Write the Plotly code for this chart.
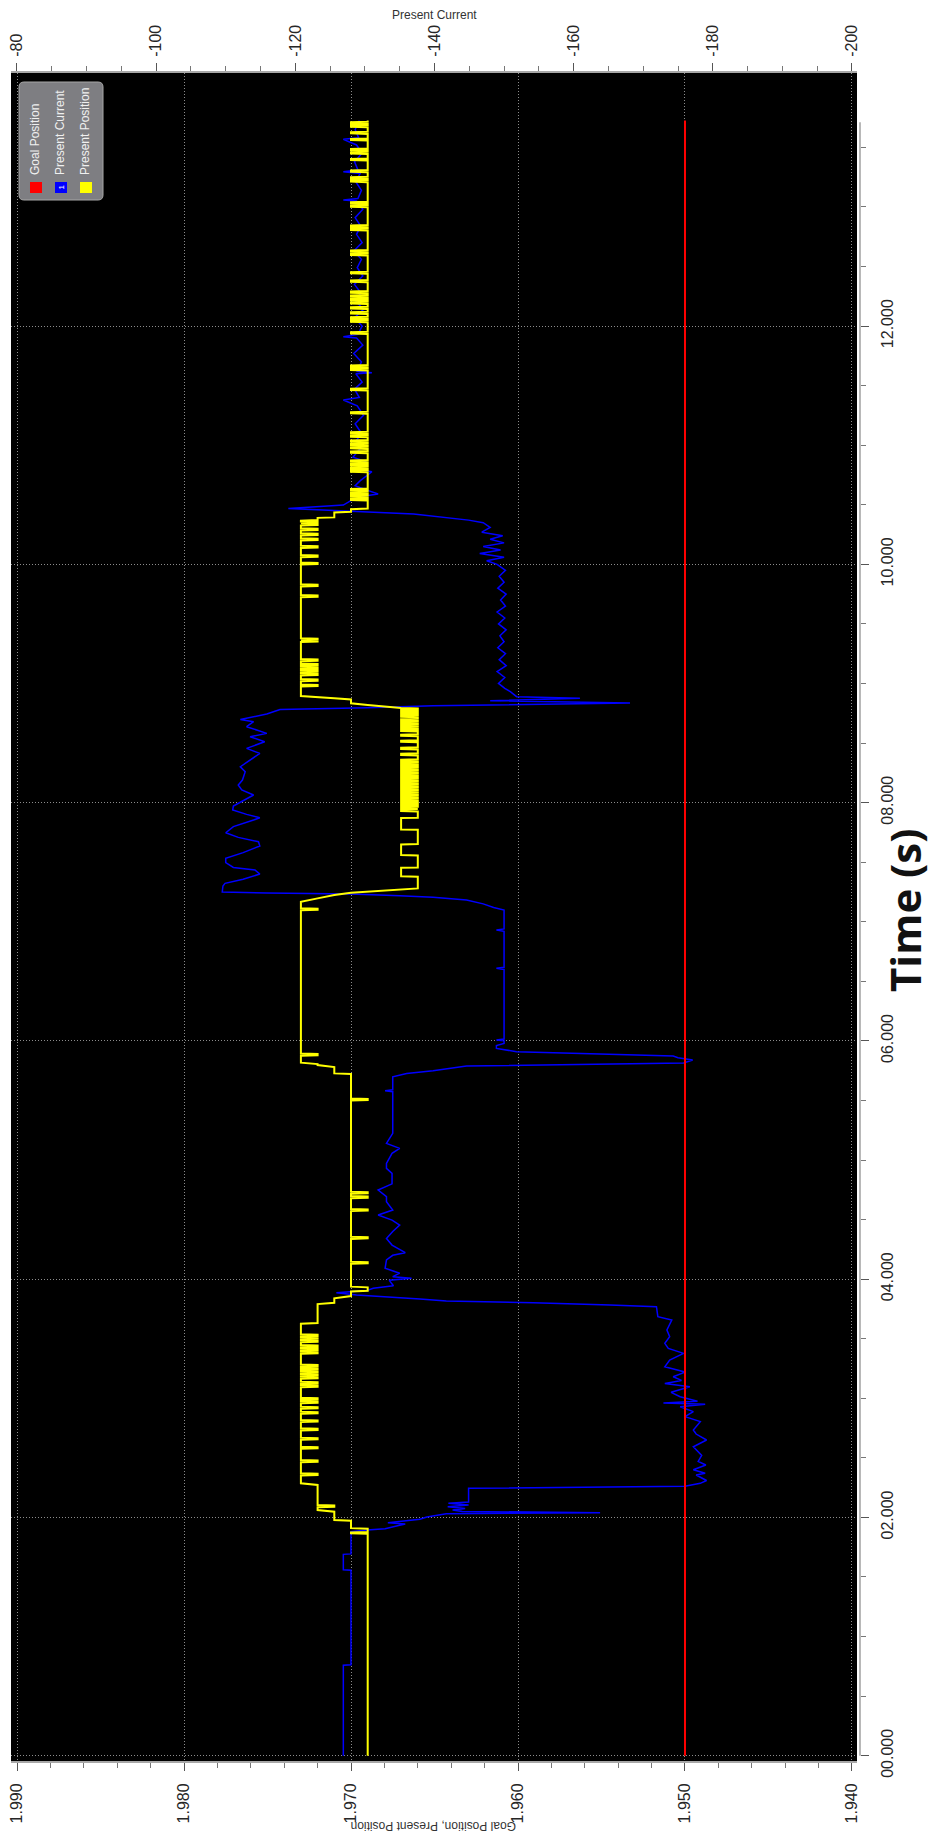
import plotly.graph_objects as go

# ---------------- data ----------------
goal_t = [0.0, 13.725]
goal_v = [1.950, 1.950]

# Present Position: baseline steps (time s, value)
pos_step_t = [0.000, 1.862, 1.866, 1.874, 1.878, 1.905, 1.910, 1.973, 1.978, 2.048,
              2.062, 2.272, 2.286, 3.625, 3.632, 3.791, 3.802, 3.839, 3.858, 3.897,
              3.903, 3.931, 3.937, 5.722, 5.727, 5.780, 5.797, 5.805, 5.817, 7.168,
              7.196, 7.224, 7.244, 7.280, 7.378, 7.381, 7.453, 7.456, 7.557, 7.560,
              7.649, 7.652, 7.772, 7.775, 7.870, 7.873, 8.790, 8.795, 8.805, 8.819,
              8.833, 8.865, 8.875, 8.883, 8.894, 10.366, 10.371, 10.390, 10.394, 10.436,
              10.441, 10.462, 10.469, 13.725]
pos_step_v = [1.969, 1.969, 1.970, 1.970, 1.969, 1.969, 1.970, 1.970, 1.971, 1.971,
              1.972, 1.972, 1.973, 1.973, 1.972, 1.972, 1.971, 1.971, 1.970, 1.970,
              1.969, 1.969, 1.970, 1.970, 1.971, 1.971, 1.972, 1.972, 1.973, 1.973,
              1.972, 1.971, 1.970, 1.966, 1.966, 1.967, 1.967, 1.966, 1.966, 1.967,
              1.967, 1.966, 1.966, 1.967, 1.967, 1.966, 1.966, 1.967, 1.968, 1.969,
              1.970, 1.970, 1.971, 1.972, 1.973, 1.973, 1.972, 1.972, 1.971, 1.971,
              1.970, 1.970, 1.969, 1.969]

# Present Position: short one-count excursions (time s, value reached)
pos_tooth_t = [2.090,
               2.356, 2.468, 2.580, 2.655, 2.734, 2.804, 2.874, 2.916, 2.963, 2.991,
               3.097, 3.125, 3.167, 3.190, 3.215, 3.243, 3.270, 3.377, 3.405, 3.433,
               3.475, 3.500, 3.523,
               4.133, 4.342, 4.575, 4.684, 4.720, 5.503,
               5.880, 7.100,
               7.930, 7.950, 7.975, 8.000, 8.020, 8.045, 8.070, 8.090, 8.115, 8.140,
               8.160, 8.185, 8.210, 8.230, 8.255, 8.280, 8.300, 8.325, 8.350, 8.400,
               8.450, 8.510, 8.560, 8.600, 8.625, 8.645, 8.665, 8.690, 8.720, 8.745, 8.770,
               8.978, 9.023, 9.070, 9.098, 9.126, 9.154, 9.191, 9.352, 9.366, 9.728,
               9.818, 10.002, 10.064, 10.142, 10.204, 10.246, 10.288, 10.330, 10.345,
               10.539, 10.567, 10.595, 10.623, 10.777, 10.805, 10.833, 10.861, 10.937, 10.973,
               11.001, 11.029, 11.071, 11.099, 11.267, 11.463, 11.631, 11.659, 11.938, 12.036,
               12.064, 12.106, 12.148, 12.190, 12.218, 12.246, 12.280, 12.372, 12.442, 12.596,
               12.624, 12.806, 12.834, 13.002, 13.030, 13.212, 13.239, 13.295, 13.393, 13.449,
               13.477, 13.561, 13.617, 13.673, 13.700]
pos_tooth_v = ([1.971] + [1.972] * 23 + [1.969] * 6 + [1.972] * 2 + [1.967] * 31
               + [1.972] * 19 + [1.970] * 45)

# Present Current (time s, value)
cur_t = [0.000, 0.759, 0.763, 1.557, 1.561, 1.690, 1.694, 1.861, 1.880, 1.894,
         1.905, 1.935, 1.945, 1.955, 1.985, 2.003, 2.030, 2.040, 2.050, 2.062,
         2.075, 2.090, 2.105, 2.118, 2.130, 2.244, 2.262, 2.286, 2.310, 2.356,
         2.370, 2.400, 2.440, 2.470, 2.520, 2.593, 2.650, 2.700, 2.734, 2.804,
         2.846, 2.888, 2.929, 2.950, 2.960, 2.975, 3.013, 3.050, 3.097, 3.125,
         3.150, 3.181, 3.220, 3.265, 3.321, 3.377, 3.419, 3.461, 3.517, 3.573,
         3.657, 3.685, 3.769, 3.783, 3.802, 3.816, 3.833, 3.867, 3.886, 3.905,
         3.923, 3.945, 3.990, 4.007, 4.021, 4.050, 4.091, 4.161, 4.200, 4.222,
         4.286, 4.342, 4.400, 4.454, 4.496, 4.538, 4.580, 4.650, 4.692, 4.748,
         4.800, 4.888, 4.930, 4.972, 5.056, 5.098, 5.140, 5.224, 5.400, 5.573,
         5.582, 5.590, 5.699, 5.727, 5.750, 5.789, 5.814, 5.839, 5.859, 5.873,
         5.909, 5.937, 5.960, 5.979, 6.000, 6.007, 6.015, 6.600, 6.609, 6.618,
         6.920, 6.930, 6.940, 7.098, 7.120, 7.150, 7.182, 7.205, 7.218, 7.233,
         7.241, 7.250, 7.300, 7.322, 7.356, 7.400, 7.434, 7.456, 7.496, 7.532,
         7.580, 7.636, 7.672, 7.708, 7.747, 7.798, 7.854, 7.873, 7.901, 7.938,
         7.971, 8.036, 8.064, 8.106, 8.148, 8.189, 8.259, 8.301, 8.357, 8.413,
         8.455, 8.511, 8.553, 8.581, 8.637, 8.679, 8.698, 8.726, 8.743, 8.782,
         8.796, 8.813, 8.835, 8.855, 8.875, 8.889, 8.931, 8.959, 9.000, 9.050,
         9.100, 9.150, 9.200, 9.250, 9.300, 9.350, 9.400, 9.450, 9.500, 9.550,
         9.600, 9.650, 9.700, 9.750, 9.800, 9.850, 9.900, 9.950, 10.000, 10.030,
         10.060, 10.090, 10.120, 10.150, 10.180, 10.210, 10.240, 10.270, 10.310, 10.349,
         10.371, 10.422, 10.447, 10.469, 10.497, 10.539, 10.570, 10.590, 10.623, 10.660,
         10.700, 10.777, 10.800, 10.860, 10.900, 10.970, 11.040, 11.100, 11.180, 11.250,
         11.330, 11.379, 11.400, 11.470, 11.530, 11.600, 11.608, 11.620, 11.700, 11.770,
         11.840, 11.900, 11.910, 11.930, 12.000, 12.070, 12.140, 12.210, 12.280, 12.350,
         12.420, 12.490, 12.560, 12.630, 12.700, 12.770, 12.840, 12.910, 12.980, 13.050,
         13.058, 13.070, 13.140, 13.210, 13.280, 13.295, 13.310, 13.380, 13.450, 13.520,
         13.567, 13.580, 13.650, 13.725]
cur_v = [-126.9, -126.9, -128.0, -128.0, -126.9, -126.9, -128.0, -128.0, -128.0, -130.3,
         -132.9, -135.0, -135.8, -133.3, -137.9, -138.9, -141.7, -163.8, -144.0, -142.6,
         -144.4, -141.9, -144.9, -142.0, -144.9, -144.9, -176.0, -178.2, -179.1, -177.6,
         -178.9, -177.2, -179.0, -177.9, -178.4, -177.2, -179.1, -177.6, -177.2, -178.2,
         -176.0, -177.2, -175.3, -178.9, -172.9, -177.8, -175.3, -174.0, -176.7, -173.1,
         -175.5, -174.3, -176.0, -173.1, -173.8, -175.8, -173.6, -173.1, -173.8, -173.4,
         -174.1, -172.1, -171.9, -165.2, -154.2, -141.7, -137.9, -128.8, -125.9, -130.3,
         -131.2, -134.1, -133.5, -136.7, -134.0, -135.0, -132.9, -133.1, -134.0, -135.8,
         -133.9, -133.1, -134.0, -135.0, -133.9, -131.9, -134.0, -133.1, -133.1, -131.9,
         -133.9, -133.9, -133.1, -133.1, -133.9, -135.0, -133.1, -134.0, -134.0, -134.0,
         -132.9, -134.0, -134.0, -136.0, -139.8, -144.6, -175.8, -177.1, -175.0, -174.3,
         -151.8, -148.9, -148.9, -150.0, -150.0, -148.9, -150.0, -150.0, -148.9, -150.0,
         -150.0, -148.9, -150.0, -150.0, -148.5, -147.0, -144.6, -139.8, -135.0, -128.0,
         -115.9, -109.5, -109.6, -109.9, -112.5, -114.9, -114.2, -111.1, -110.0, -110.0,
         -112.5, -114.9, -114.7, -111.8, -110.0, -111.1, -114.0, -114.9, -113.0, -111.0,
         -111.1, -113.0, -114.0, -112.3, -111.8, -112.4, -112.8, -112.1, -113.5, -114.9,
         -113.0, -115.6, -113.5, -115.9, -113.0, -114.0, -112.1, -114.7, -115.9, -117.8,
         -130.3, -139.8, -168.1, -148.0, -160.9, -151.8, -150.9, -150.1, -149.2, -150.1,
         -149.0, -150.3, -149.3, -150.2, -149.1, -150.0, -149.4, -150.3, -149.2, -150.1,
         -149.0, -150.2, -149.5, -150.3, -149.1, -150.0, -149.3, -150.2, -149.0, -147.5,
         -150.0, -146.5, -149.5, -147.0, -150.0, -148.0, -149.8, -146.8, -148.0, -147.0,
         -144.9, -137.0, -128.0, -119.0, -126.9, -128.1, -129.5, -131.9, -130.3, -128.6,
         -129.3, -131.0, -128.8, -130.2, -128.3, -129.3, -128.8, -129.5, -128.6, -129.8,
         -128.9, -126.9, -129.2, -128.5, -129.6, -128.7, -131.0, -128.9, -129.5, -128.4,
         -129.7, -128.8, -126.9, -129.0, -129.6, -128.5, -129.8, -128.7, -129.4, -128.5,
         -129.7, -128.9, -129.5, -128.4, -129.6, -128.8, -129.4, -128.6, -129.7, -128.8,
         -126.9, -129.0, -129.5, -128.7, -129.3, -126.9, -129.0, -128.5, -129.6, -128.8,
         -126.9, -129.1, -128.6, -129.2]

# ticks
time_ticks = [0, 2, 4, 6, 8, 10, 12]
time_tick_text = ["00.000", "02.000", "04.000", "06.000", "08.000", "10.000", "12.000"]
time_minor = [0.5, 1, 1.5, 2.5, 3, 3.5, 4.5, 5, 5.5, 6.5, 7, 7.5, 8.5, 9, 9.5,
              10.5, 11, 11.5, 12.5, 13, 13.5]
time_axis_end = 13.71
pos_ticks = [1.990, 1.980, 1.970, 1.960, 1.950, 1.940]
pos_tick_text = ["1.990", "1.980", "1.970", "1.960", "1.950", "1.940"]
pos_minor = [1.988, 1.986, 1.984, 1.982, 1.978, 1.976, 1.974, 1.972, 1.968, 1.966,
             1.964, 1.962, 1.958, 1.956, 1.954, 1.952, 1.948, 1.946, 1.944, 1.942]
cur_ticks = [-80, -100, -120, -140, -160, -180, -200]
cur_tick_text = ["-80", "-100", "-120", "-140", "-160", "-180", "-200"]
cur_minor = [-85, -90, -95, -105, -110, -115, -125, -130, -135, -145, -150, -155,
             -165, -170, -175, -185, -190, -195]

legend_names = ["Goal Position", "Present Current", "Present Position"]
legend_colors = ["#ff0000", "#0000ff", "#ffff00"]

# ---------------- build position series ----------------
def base_at(t):
    v = pos_step_v[0]
    for st, sv in zip(pos_step_t, pos_step_v):
        if st <= t:
            v = sv
        else:
            break
    return v

pts = list(zip(pos_step_t, pos_step_v))
for tt, tv in zip(pos_tooth_t, pos_tooth_v):
    b = base_at(tt)
    pts += [(tt - 0.004, b), (tt, tv), (tt + 0.010, tv), (tt + 0.014, b)]
pts.sort(key=lambda p: p[0])
pos_t = [p[0] for p in pts]
pos_v = [p[1] for p in pts]

# ---------------- layout geometry ----------------
W, H = 932, 1834
ML, MR, MT, MB = 11, 72, 73, 73
PW = W - ML - MR
PH = H - MT - MB
PLOT_R = 857


def fx(x):
    return (x - ML) / PW


def fy(y):
    return (H - MB - y) / PH


fig = go.Figure()
fig.add_trace(go.Scatter(x=cur_v, y=cur_t, xaxis="x", yaxis="y", mode="lines",
                         name="Present Current", line=dict(color="#0000ff", width=1.5)))
fig.add_trace(go.Scatter(x=goal_v, y=goal_t, xaxis="x2", yaxis="y", mode="lines",
                         name="Goal Position", line=dict(color="#ff0000", width=2)))
fig.add_trace(go.Scatter(x=pos_v, y=pos_t, xaxis="x2", yaxis="y", mode="lines",
                         name="Present Position", line=dict(color="#ffff00", width=2)))

tickfont = dict(family="Liberation Sans, Arial, sans-serif", size=16, color="#262626")
dom = [0, (PLOT_R - ML) / PW]
GRID = "#8c8c8c"
DOT = "1px,2px"

fig.update_layout(
    width=W, height=H,
    margin=dict(l=ML, r=MR, t=MT, b=MB, pad=0),
    paper_bgcolor="white", plot_bgcolor="black",
    showlegend=False,
    xaxis=dict(domain=dom, range=[-79.14, -200.72], side="top", anchor="y",
               tickmode="array", tickvals=cur_ticks, ticktext=cur_tick_text, tickangle=-90,
               ticks="outside", ticklen=8, tickwidth=1, tickcolor="#555",
               minor=dict(tickmode="array", tickvals=cur_minor, ticks="outside", ticklen=5,
                          tickcolor="#777", showgrid=False),
               showline=True, linecolor="#a8a8a8", linewidth=2, showgrid=False,
               zeroline=False, tickfont=tickfont, automargin=False, ticklabelstandoff=3),
    xaxis2=dict(overlaying="x", side="bottom", anchor="y", range=[1.99036, 1.9397],
                tickmode="array", tickvals=pos_ticks, ticktext=pos_tick_text, tickangle=-90,
                ticks="outside", ticklen=8, tickwidth=1, tickcolor="#555",
                minor=dict(tickmode="array", tickvals=pos_minor, ticks="outside", ticklen=5,
                           tickcolor="#777", showgrid=False),
                showline=True, linecolor="#a8a8a8", linewidth=2,
                showgrid=True, gridcolor=GRID, griddash=DOT, gridwidth=1,
                zeroline=False, tickfont=tickfont, automargin=False, ticklabelstandoff=6),
    yaxis=dict(range=[-0.0445, 14.124], anchor="free", position=1, side="right",
               tickmode="array", tickvals=time_ticks, ticktext=time_tick_text, tickangle=-90,
               ticks="outside", ticklen=8, tickwidth=1, tickcolor="#555",
               minor=dict(tickmode="array", tickvals=time_minor, ticks="outside", ticklen=5,
                          tickcolor="#777", showgrid=False),
               showline=False, showgrid=True, gridcolor=GRID, griddash=DOT, gridwidth=1,
               zeroline=False, tickfont=tickfont, automargin=False, ticklabelstandoff=5),
)

shapes = []
# time axis line (only spans the data extent)
shapes.append(dict(type="line", xref="paper", yref="y", x0=1, x1=1, y0=0, y1=time_axis_end,
                   line=dict(color="#a0a0a0", width=1.5), layer="above"))

# legend box (rounded)
bx0, bx1, by0, by1 = 19, 103, 82, 200
r = 5
path = (f"M {fx(bx0 + r)} {fy(by0)} L {fx(bx1 - r)} {fy(by0)} "
        f"Q {fx(bx1)} {fy(by0)} {fx(bx1)} {fy(by0 + r)} "
        f"L {fx(bx1)} {fy(by1 - r)} Q {fx(bx1)} {fy(by1)} {fx(bx1 - r)} {fy(by1)} "
        f"L {fx(bx0 + r)} {fy(by1)} Q {fx(bx0)} {fy(by1)} {fx(bx0)} {fy(by1 - r)} "
        f"L {fx(bx0)} {fy(by0 + r)} Q {fx(bx0)} {fy(by0)} {fx(bx0 + r)} {fy(by0)} Z")
shapes.append(dict(type="path", xref="paper", yref="paper", path=path,
                   fillcolor="#7e7e82", line=dict(color="#a6a6a6", width=1), layer="above"))

annotations = []
item_x = [30, 55, 80]
for name, col, x0 in zip(legend_names, legend_colors, item_x):
    shapes.append(dict(type="rect", xref="paper", yref="paper",
                       x0=fx(x0), x1=fx(x0 + 12), y0=fy(193), y1=fy(182),
                       fillcolor=col, line=dict(width=0), layer="above"))
    annotations.append(dict(text=name, xref="paper", yref="paper", x=fx(x0 + 5.5), y=fy(177),
                            xanchor="center", yanchor="bottom", textangle=-90, showarrow=False,
                            font=dict(family="Liberation Sans, Arial, sans-serif", size=12,
                                      color="#f0f0f0")))
annotations.append(dict(text="1", xref="paper", yref="paper", x=fx(61), y=fy(187.5),
                        xanchor="center", yanchor="middle", textangle=-90, showarrow=False,
                        font=dict(family="Liberation Sans, Arial, sans-serif", size=8,
                                  color="#ffffff")))

# axis titles
annotations.append(dict(text="Present Current", xref="paper", yref="paper",
                        x=fx(434), y=fy(15), xanchor="center", yanchor="middle",
                        showarrow=False,
                        font=dict(family="Liberation Sans, Arial, sans-serif", size=12,
                                  color="#333")))
annotations.append(dict(text="Goal Position, Present Position", xref="paper", yref="paper",
                        x=fx(434), y=fy(1826), xanchor="center", yanchor="middle",
                        textangle=180, showarrow=False,
                        font=dict(family="Liberation Sans, Arial, sans-serif", size=12,
                                  color="#333")))
annotations.append(dict(text="<b>Time (s)</b>", xref="paper", yref="paper",
                        x=fx(904), y=fy(910), xanchor="center", yanchor="middle",
                        textangle=-90, showarrow=False,
                        font=dict(family="Open Sans, Liberation Sans, sans-serif", size=42,
                                  color="#111")))

fig.update_layout(shapes=shapes, annotations=annotations)
fig.write_html("out.html", config={"displayModeBar": False},
               post_script="document.body.style.margin='0';document.body.style.overflow='hidden';")
